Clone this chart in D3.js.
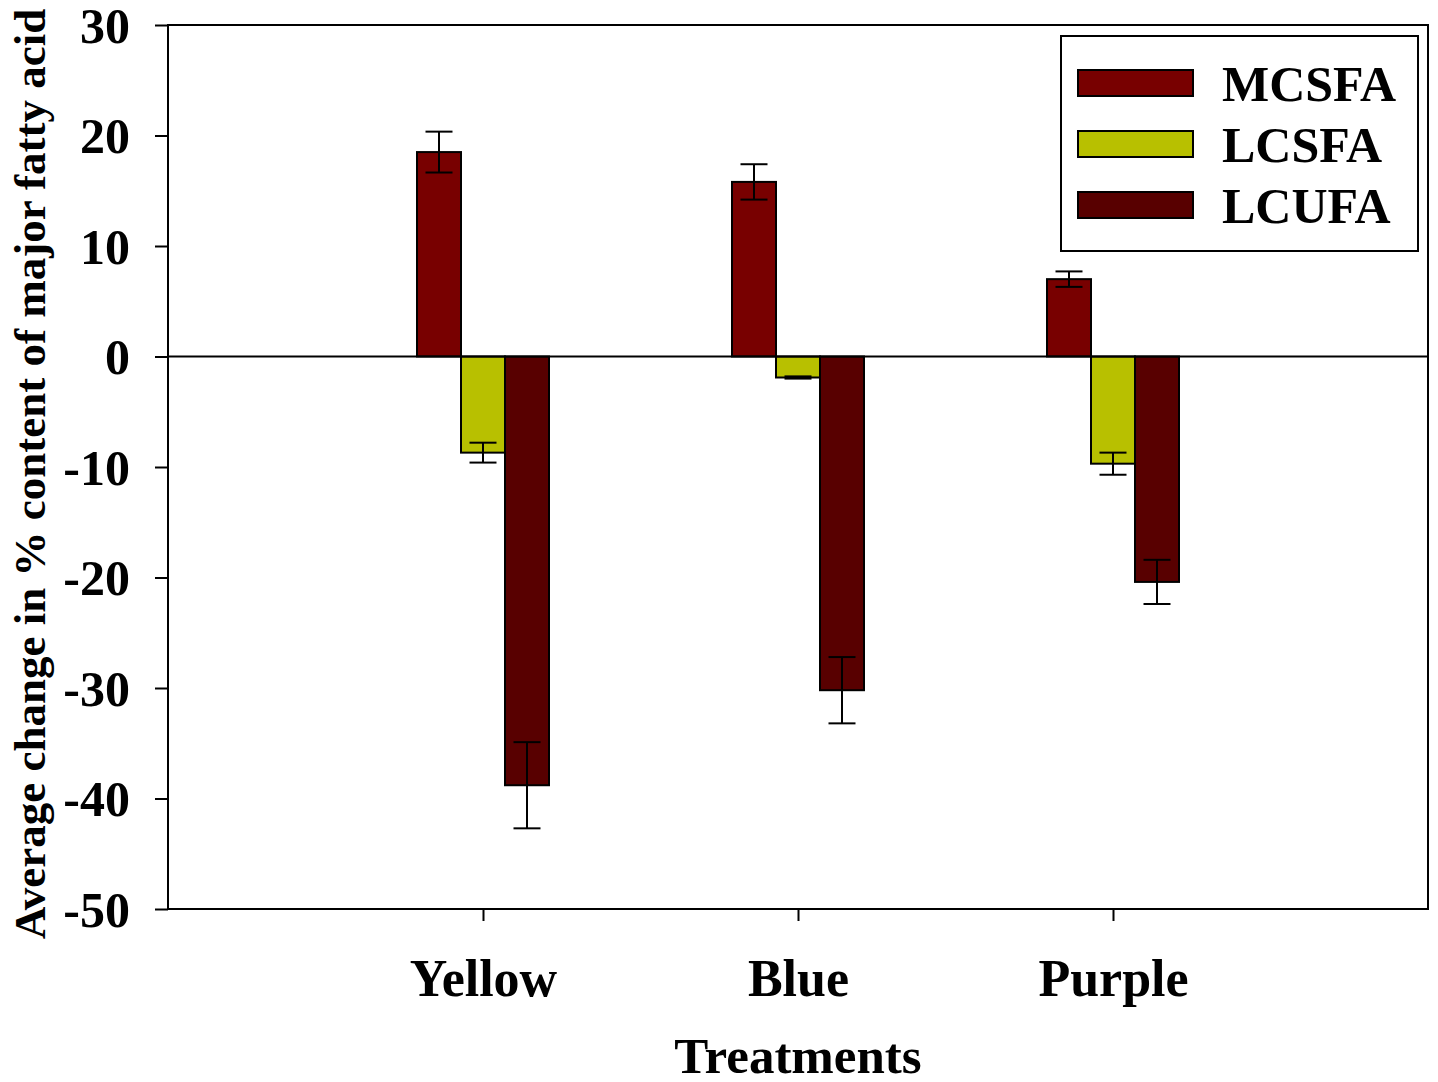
<!DOCTYPE html>
<html>
<head>
    <meta charset="utf-8">
    <title>Average change in fatty acid content</title>
    <script src="https://d3js.org/d3.v7.min.js"></script>
    <style>
        body { margin: 0; background: #fff; }
        text { font-family: "Liberation Serif", "Times New Roman", serif; font-weight: bold; fill: #000; }
    </style>
</head>
<body>
    <div id="chart"></div>
    <script>
const treatments = ['Yellow', 'Blue', 'Purple'];
const series = ['MCSFA', 'LCSFA', 'LCUFA'];
const colors = ['#780000', '#b8c000', '#580000'];

// mean change per treatment, one array per series
const mcsfa = [18.5, 15.8, 7.0];
const lcsfa = [-8.7, -1.9, -9.7];
const lcufa = [-38.8, -30.2, -20.4];

// error (one side)
const mcsfaErr = [1.85, 1.6, 0.7];
const lcsfaErr = [0.9, 0.1, 1.0];
const lcufaErr = [3.9, 3.0, 2.0];

const yTicks = [30, 20, 10, 0, -10, -20, -30, -40, -50];

const values = [mcsfa, lcsfa, lcufa];
const errors = [mcsfaErr, lcsfaErr, lcufaErr];

const width = 1438;
const height = 1082;
const margin = { top: 25, right: 10, bottom: 173, left: 168 };

const svg = d3.select('#chart')
    .append('svg')
    .attr('width', width)
    .attr('height', height);

const x = d3.scalePoint()
    .domain(treatments)
    .range([margin.left, width - margin.right])
    .padding(1);

const xSub = d3.scaleBand()
    .domain(series)
    .range([-66, 66]);

const y = d3.scaleLinear()
    .domain([-50, 30])
    .range([height - margin.bottom, margin.top]);

const rows = [];
treatments.forEach((t, i) => {
    series.forEach((s, j) => {
        rows.push({ t: t, s: s, v: values[j][i], e: errors[j][i], c: colors[j] });
    });
});

// bars
svg.append('g')
    .selectAll('rect')
    .data(rows)
    .enter()
    .append('rect')
    .attr('x', d => x(d.t) + xSub(d.s))
    .attr('width', xSub.bandwidth())
    .attr('y', d => y(Math.max(0, d.v)))
    .attr('height', d => Math.abs(y(d.v) - y(0)))
    .attr('fill', d => d.c)
    .attr('stroke', '#000')
    .attr('stroke-width', 2);

// error bars
const capW = 13.5;
const cx = d => x(d.t) + xSub(d.s) + xSub.bandwidth() / 2;
const err = svg.append('g')
    .attr('stroke', '#000')
    .attr('stroke-width', 2)
    .selectAll('g')
    .data(rows)
    .enter()
    .append('g');

err.append('line')
    .attr('x1', cx)
    .attr('x2', cx)
    .attr('y1', d => y(d.v + d.e))
    .attr('y2', d => y(d.v - d.e));

err.append('line')
    .attr('x1', d => cx(d) - capW)
    .attr('x2', d => cx(d) + capW)
    .attr('y1', d => y(d.v + d.e))
    .attr('y2', d => y(d.v + d.e));

err.append('line')
    .attr('x1', d => cx(d) - capW)
    .attr('x2', d => cx(d) + capW)
    .attr('y1', d => y(d.v - d.e))
    .attr('y2', d => y(d.v - d.e));

// zero line
svg.append('line')
    .attr('x1', margin.left)
    .attr('x2', width - margin.right)
    .attr('y1', y(0))
    .attr('y2', y(0))
    .attr('stroke', '#000')
    .attr('stroke-width', 2);

// frame
svg.append('rect')
    .attr('x', margin.left)
    .attr('y', margin.top)
    .attr('width', width - margin.right - margin.left)
    .attr('height', height - margin.bottom - margin.top)
    .attr('fill', 'none')
    .attr('stroke', '#000')
    .attr('stroke-width', 2);

// y axis
const yAxis = svg.append('g')
    .attr('transform', `translate(${margin.left},0)`)
    .call(d3.axisLeft(y).tickValues(yTicks).tickSize(13).tickPadding(25).tickFormat(d => String(d)));
yAxis.select('.domain').remove();
yAxis.selectAll('line').attr('stroke-width', 2);
yAxis.selectAll('text')
    .attr('font-size', 50)
    .attr('dy', '0.34em')
    .attr('fill', '#000');

// x axis
const xAxis = svg.append('g')
    .attr('transform', `translate(0,${height - margin.bottom})`)
    .call(d3.axisBottom(x).tickSize(12).tickPadding(38));
xAxis.select('.domain').remove();
xAxis.selectAll('line').attr('stroke-width', 2);
xAxis.selectAll('text')
    .attr('font-size', 52)
    .attr('dy', '0.71em')
    .attr('fill', '#000');

// axis titles
svg.append('text')
    .attr('x', x('Blue'))
    .attr('y', 1073)
    .attr('text-anchor', 'middle')
    .attr('font-size', 51)
    .text('Treatments');

svg.append('text')
    .attr('transform', 'translate(45,474) rotate(-90)')
    .attr('text-anchor', 'middle')
    .attr('font-size', 45)
    .text('Average change in % content of major fatty acid');

// legend
const legend = svg.append('g');
legend.append('rect')
    .attr('x', 1061)
    .attr('y', 36)
    .attr('width', 357)
    .attr('height', 215)
    .attr('fill', '#fff')
    .attr('stroke', '#000')
    .attr('stroke-width', 2);

const item = legend.selectAll('g')
    .data(series)
    .enter()
    .append('g')
    .attr('transform', (d, i) => `translate(0,${i * 61})`);

item.append('rect')
    .attr('x', 1078)
    .attr('y', 70)
    .attr('width', 115)
    .attr('height', 26)
    .attr('fill', (d, i) => colors[i])
    .attr('stroke', '#000')
    .attr('stroke-width', 2);

item.append('text')
    .attr('x', 1222)
    .attr('y', 101)
    .attr('font-size', 50)
    .text(d => d);
    </script>
</body>
</html>
